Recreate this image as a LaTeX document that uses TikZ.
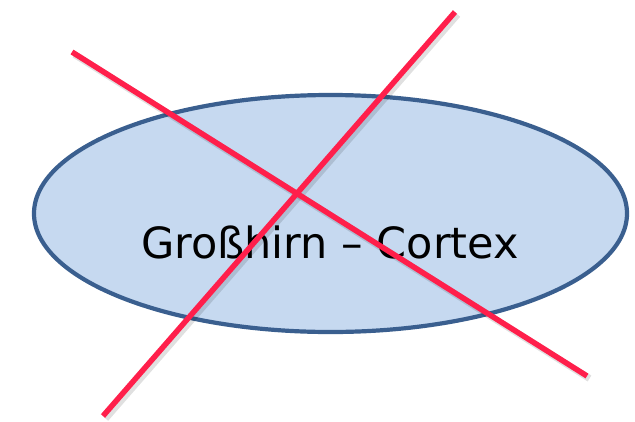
\documentclass[tikz,border=0pt]{standalone}
\usepackage{fontspec}
\setmainfont{DejaVu Sans}
\usetikzlibrary{shapes.geometric}
\definecolor{ellfill}{HTML}{C6D9F0}
\definecolor{elldraw}{HTML}{3A5F8F}
\definecolor{crossred}{HTML}{FF1F4B}
\tikzset{
  brain/.style={ellipse, draw=elldraw, fill=ellfill, line width=4.2pt, minimum width=593pt, minimum height=237pt, inner sep=0pt},
  label text/.style={font=\fontsize{43}{50}\selectfont, text=black, inner sep=0pt, anchor=base},
  crossline/.style={draw=crossred, line width=5.5pt},
  crossshadow/.style={draw=black, opacity=0.12, line width=7pt}
}
\begin{document}
\begin{tikzpicture}[x=1pt,y=-1pt]
\useasboundingbox (0,0) rectangle (635,421);
\node[brain] (ell) at (330.5,213.5) {};
\node[label text] (txt) at (330,258) {Großhirn – Cortex};
\coordinate (a1) at (72,52);
\coordinate (a2) at (587,376);
\coordinate (b1) at (455,12);
\coordinate (b2) at (103,416);
\draw[crossshadow] ([shift={(2.5,2.5)}]a1) -- ([shift={(2.5,2.5)}]a2);
\draw[crossshadow] ([shift={(2.5,2.5)}]b1) -- ([shift={(2.5,2.5)}]b2);
\draw[crossline] (a1) -- (a2);
\draw[crossline] (b1) -- (b2);
\end{tikzpicture}
\end{document}
